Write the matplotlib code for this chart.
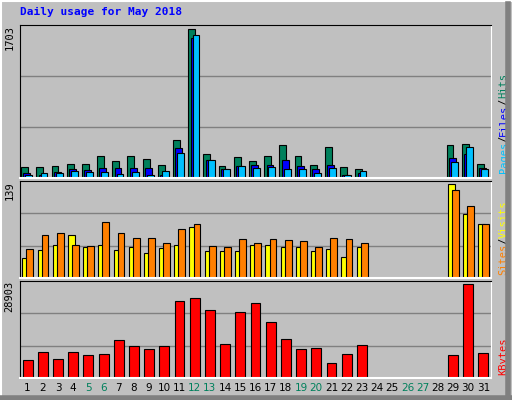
import numpy as np
import matplotlib.pyplot as plt

days = np.arange(1, 32)
weekend = [5, 6, 12, 13, 19, 20, 26, 27]

hits = [127, 127, 140, 160, 160, 250, 190, 250, 220, 150, 440, 1703, 270, 140, 240, 200,
        250, 380, 250, 150, 350, 127, 100, 0, 0, 0, 0, 0, 380, 390, 160]
files = [55, 40, 70, 100, 90, 120, 110, 120, 120, 40, 340, 1600, 210, 100, 140, 150,
         150, 210, 140, 100, 150, 40, 60, 0, 0, 0, 0, 0, 230, 280, 120]
pages = [35, 60, 60, 80, 70, 70, 50, 70, 40, 80, 290, 1640, 210, 100, 140, 120,
         130, 100, 100, 60, 120, 40, 80, 0, 0, 0, 0, 0, 180, 350, 100]
visits = [29, 42, 48, 64, 46, 48, 42, 46, 37, 45, 49, 76, 40, 40, 40, 49,
          49, 46, 46, 40, 43, 31, 46, 0, 0, 0, 0, 0, 139, 95, 79]
sites = [43, 64, 67, 49, 47, 82, 67, 59, 59, 52, 73, 80, 47, 46, 58, 52,
         58, 56, 55, 46, 59, 58, 52, 0, 0, 0, 0, 0, 130, 107, 79]
kbytes = [5590, 8120, 5900, 8120, 7170, 7490, 11600, 9700, 8760, 9700, 23630, 24470,
          20780, 10340, 20150, 23000, 17300, 11920, 8760, 9070, 4640, 7490, 10020,
          0, 0, 0, 0, 0, 7170, 28903, 7810]

bg = '#C0C0C0'
mono = 'DejaVu Sans Mono'
fig = plt.figure(figsize=(5.12, 4), dpi=100, facecolor=bg)

# outer bevel
fig.add_artist(plt.Line2D([0, 1], [0.998, 0.998], color='white', lw=1.5))
fig.add_artist(plt.Line2D([0.002, 0.002], [0, 1], color='white', lw=1.5))
fig.add_artist(plt.Line2D([0.993, 0.993], [0, 0.99], color='#808080', lw=4))
fig.add_artist(plt.Line2D([0, 1], [0.006, 0.006], color='#808080', lw=4))

fig.text(20 / 512, 1 - 12 / 400, 'Daily usage for May 2018', color='#0000FF',
         family=mono, weight='bold', fontsize=8, va='center')

def panel(rect, top, toplabel):
    ax = fig.add_axes(rect, facecolor=bg)
    ax.set_xlim(0.5, 31.5)
    ax.set_ylim(0, top * 1.03)
    for v in (top / 3, 2 * top / 3):
        ax.axhline(v * 1.03, color='#808080', lw=1, zorder=0)
    ax.set_xticks([])
    ax.set_yticks([])
    for s in ('left', 'top'):
        ax.spines[s].set_color('black')
    for s in ('right', 'bottom'):
        ax.spines[s].set_color('white')
    ax.spines['bottom'].set_linewidth(1.5)
    ax.text(-0.022, 1.0, toplabel, transform=ax.transAxes, rotation=90,
            ha='center', va='top', family=mono, fontsize=7.5)
    return ax

def side_label(ax, parts):
    # parts listed bottom to top; stack by measured text height
    renderer = fig.canvas.get_renderer()
    axh = ax.get_window_extent(renderer).height
    y = 0.03
    for txt, col in parts:
        t = ax.text(1.027, y, txt, transform=ax.transAxes, rotation=90,
                    ha='center', va='bottom', color=col, family=mono, fontsize=7.5)
        y += t.get_window_extent(renderer).height / axh

kw = dict(edgecolor='black', linewidth=0.8)

ax1 = panel([20 / 512, 1 - 178 / 400, 471 / 512, 153 / 400], 1703, '1703')
ax1.bar(days - 0.2, hits, 0.45, color='#00805C', **kw)
ax1.bar(days - 0.05, files, 0.45, color='#0000FF', **kw)
ax1.bar(days + 0.08, pages, 0.45, color='#00C0FF', **kw)

ax2 = panel([20 / 512, 1 - 278 / 400, 471 / 512, 97 / 400], 139, '139')
ax2.bar(days - 0.12, visits, 0.45, color='#FFFF00', **kw)
ax2.bar(days + 0.15, sites, 0.45, color='#FF8000', **kw)

ax3 = panel([20 / 512, 1 - 378 / 400, 471 / 512, 97 / 400], 28903, '28903')
ax3.bar(days, kbytes, 0.65, color='#FF0000', **kw)

fig.canvas.draw()
side_label(ax1, [('Pages', '#00C0FF'), ('/', '#000000'), ('Files', '#0000FF'),
                 ('/', '#000000'), ('Hits', '#00805C')])
side_label(ax2, [('Sites', '#FF8000'), ('/', '#000000'), ('Visits', '#FFFF00')])
side_label(ax3, [('KBytes', '#FF0000')])

for d in days:
    ax3.text(d, -0.1, str(d), transform=ax3.get_xaxis_transform(), ha='center',
             va='center', fontsize=7.5, color='#00805C' if d in weekend else 'black')

fig.savefig('out.png', dpi=100, facecolor=bg)
